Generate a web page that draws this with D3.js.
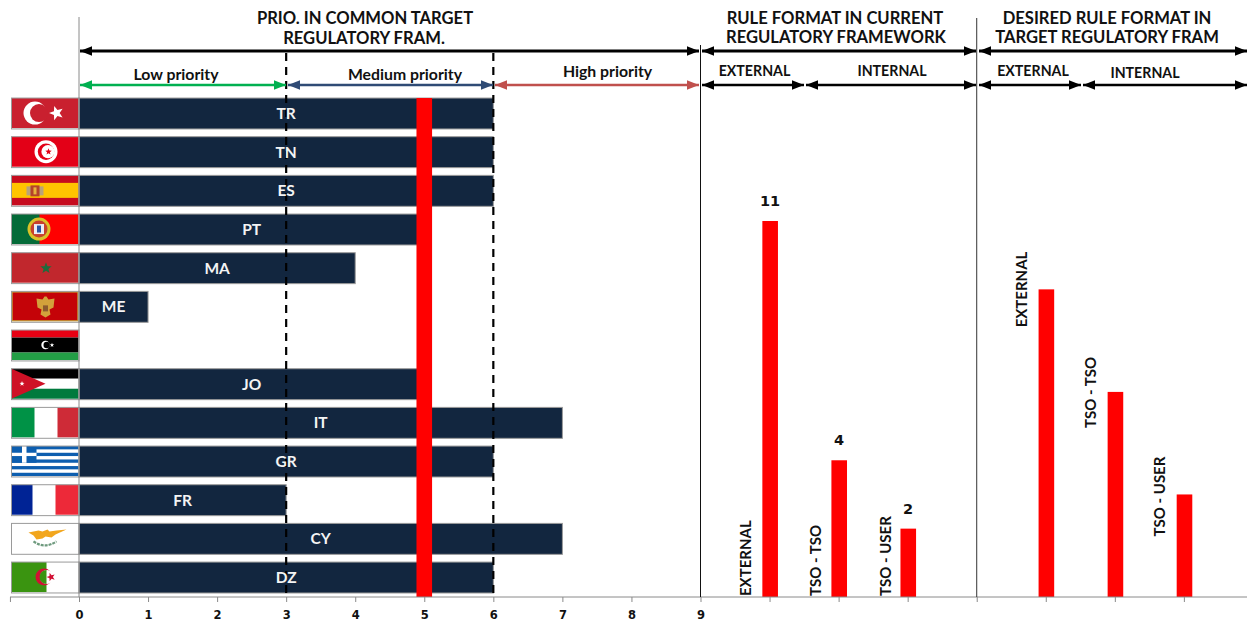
<!DOCTYPE html>
<html>
<head>
<meta charset="utf-8">
<script src="https://cdn.jsdelivr.net/npm/d3@7"></script>
<style>
  html, body { margin: 0; padding: 0; background: #fff; }
  svg { display: block; }
  text { font-family: Lato, "Open Sans", sans-serif; font-weight: 700; fill: #111; }
</style>
</head>
<body>
<div id="chart"></div>
<script>
// Priority given by each country, in display order from top to bottom
const countries  = ["TR", "TN", "ES", "PT", "MA", "ME", "LY", "JO", "IT", "GR", "FR", "CY", "DZ"];
const priorities = [6, 6, 6, 5, 4, 1, 0, 5, 7, 6, 3, 7, 6];
const meanPriority = 5;

// Rule formats, placed on the same horizontal scale after the priority section
const currentFormats = ["EXTERNAL", "TSO - TSO", "TSO - USER"];
const currentCounts  = [11, 4, 2];
const currentSlots   = [10, 11, 12];
const desiredFormats = ["EXTERNAL", "TSO - TSO", "TSO - USER"];
const desiredCounts  = [9, 6, 3];
const desiredSlots   = [14, 15, 16];

const axisTickValues = [-1, 0, 1, 2, 3, 4, 5, 6, 7, 8, 9, 10, 11, 12, 13, 14, 15, 16, 17];
const axisLabelValues = [0, 1, 2, 3, 4, 5, 6, 7, 8, 9];

const width = 1247, height = 624;
const navy = "#12263F", red = "#FF0000", edge = "#9a9a9a";

const svg = d3.select("#chart").append("svg").attr("width", width).attr("height", height);

const x = d3.scaleLinear().domain([0, 9]).range([79, 700.5]);
const yBand = d3.scaleBand().domain(countries).range([94.17, 596.87]).paddingInner(0.2).paddingOuter(0.1);
const yCount = d3.scaleLinear().domain([0, 11]).range([597, 221]);

// Arrowhead markers, one per arrow colour
const defs = svg.append("defs");
function arrowMarker(id, colour) {
  const m = defs.append("marker").attr("id", id).attr("viewBox", "0 0 10 8")
    .attr("refX", 10).attr("refY", 4).attr("markerUnits", "userSpaceOnUse")
    .attr("markerWidth", 12).attr("markerHeight", 10).attr("orient", "auto-start-reverse");
  m.append("path").attr("d", "M0,0L10,4L0,8Z").attr("fill", colour);
}
arrowMarker("a-black", "#000");
arrowMarker("a-green", "#00B050");
arrowMarker("a-navy", "#2F4B75");
arrowMarker("a-red", "#C0504D");

// Horizontal bars
svg.append("g").selectAll("rect.priority").data(countries).join("rect")
  .attr("class", "priority")
  .attr("x", x(0))
  .attr("y", d => yBand(d))
  .attr("width", (d, i) => x(priorities[i]) - x(0))
  .attr("height", yBand.bandwidth())
  .attr("fill", navy)
  .attr("stroke", edge)
  .attr("stroke-width", (d, i) => priorities[i] > 0 ? 1 : 0);

// Column marking the mean priority, running down to the axis
svg.append("rect")
  .attr("x", x(meanPriority) - 7.8).attr("width", 15.6)
  .attr("y", yBand(countries[0])).attr("height", yCount(0) - yBand(countries[0]))
  .attr("fill", red);

// Flag artwork, each drawn in a 67 x 30 box
const star = (cx, cy, r, rot = -90) => d3.range(10).map(i => {
  const a = (rot + i * 36) * Math.PI / 180, q = i % 2 ? r * 0.42 : r;
  return (i ? "L" : "M") + (cx + q * Math.cos(a)).toFixed(2) + "," + (cy + q * Math.sin(a)).toFixed(2);
}).join("") + "Z";

function box(g, x0, y0, w, h, fill) { return g.append("rect").attr("x", x0).attr("y", y0).attr("width", w).attr("height", h).attr("fill", fill); }
function disc(g, cx, cy, r, fill) { return g.append("circle").attr("cx", cx).attr("cy", cy).attr("r", r).attr("fill", fill); }
function poly(g, d, fill) { return g.append("path").attr("d", d).attr("fill", fill); }

const flagPainters = {
  TR(g) {
    box(g, 0, 0, 67, 30, "#C9202F");
    disc(g, 23.5, 15, 11.5, "#fff"); disc(g, 27.5, 15, 9, "#C9202F");
    poly(g, star(45, 15, 7.5, 180), "#fff");
  },
  TN(g) {
    box(g, 0, 0, 67, 30, "#E30017");
    disc(g, 34.5, 15, 11.5, "#fff"); disc(g, 34.5, 15, 8.2, "#E30017"); disc(g, 36.5, 15, 6.6, "#fff");
    poly(g, star(37, 15, 3.4), "#E30017");
  },
  ES(g) {
    box(g, 0, 0, 67, 30, "#C60B1E"); box(g, 0, 7.5, 67, 15, "#FFC400");
    box(g, 15, 11, 17, 9, "#B9A27A"); box(g, 19, 10, 9, 11, "#B5432A"); box(g, 22, 12, 3, 7, "#E8B33C");
  },
  PT(g) {
    box(g, 0, 0, 67, 30, "#FF0000"); box(g, 0, 0, 28, 30, "#046A38");
    disc(g, 27.5, 15, 11.5, "#D9C229"); disc(g, 27.5, 15, 8.5, "#C8402C"); box(g, 22.5, 10, 10, 10, "#EDEDF2");
    box(g, 25.5, 11.5, 4, 7, "#2A55A5");
  },
  MA(g) {
    box(g, 0, 0, 67, 30, "#C1272D");
    poly(g, star(34.5, 15.5, 6), "#1F6B3C");
  },
  ME(g) {
    box(g, 0, 0, 67, 30, "#C2A23A"); box(g, 1.2, 1.2, 64.6, 27.6, "#C40308");
    poly(g, "M25,7 L31,8 L33,5 L35,5 L37,8 L43,7 L42,16 L38,18 L39,23 L34,26 L29,23 L30,18 L26,16Z", "#D3A13B");
    box(g, 31.5, 14, 5, 6, "#8C5A2E");
  },
  LY(g) {
    box(g, 0, 0, 67, 7.5, "#E70013"); box(g, 0, 7.5, 67, 15, "#000"); box(g, 0, 22.5, 67, 7.5, "#239E46");
    disc(g, 34, 15, 4.2, "#fff"); disc(g, 35.2, 15, 3.2, "#000");
    poly(g, star(40.5, 15, 2.3), "#fff");
  },
  JO(g) {
    box(g, 0, 0, 67, 10, "#000"); box(g, 0, 10, 67, 10, "#fff"); box(g, 0, 20, 67, 10, "#007A3D");
    poly(g, "M0,0L34,15L0,30Z", "#CE1126");
    poly(g, star(10.5, 15, 2.6), "#fff");
  },
  IT(g) {
    box(g, 0, 0, 67, 30, "#fff"); box(g, 0, 0, 23, 30, "#009246"); box(g, 46, 0, 21, 30, "#CE2B37");
  },
  GR(g) {
    box(g, 0, 0, 67, 30, "#fff");
    [0, 6.7, 13.4, 20, 26.7].forEach(t => box(g, 0, t, 67, 3.3, "#0D5EAF"));
    box(g, 0, 0, 25, 16.7, "#0D5EAF");
    box(g, 0, 6.7, 25, 3.3, "#fff"); box(g, 10.5, 0, 4.5, 16.7, "#fff");
  },
  FR(g) {
    box(g, 0, 0, 67, 30, "#fff"); box(g, 0, 0, 21, 30, "#002395"); box(g, 44, 0, 23, 30, "#ED2939");
  },
  CY(g) {
    box(g, 0, 0, 67, 30, "#fff");
    poly(g, "M17,9 L27,7 L31,8 L36,6 L38,8 L45,7 L55,6 L44,11 L40,14 L34,13 L31,15 L25,16 L22,12Z", "#F2A61D");
    g.append("path").attr("d", "M22,18 Q33,26 45,18").attr("fill", "none").attr("stroke", "#6E9A7E").attr("stroke-width", 2.2).attr("stroke-dasharray", "3 1");
  },
  DZ(g) {
    box(g, 0, 0, 67, 30, "#fff"); box(g, 0, 0, 35, 30, "#3A9410");
    disc(g, 32.5, 15, 8.5, "#D21034"); disc(g, 35.5, 15, 7, "#fff");
    poly(g, "M35,8A7,7 0 0 0 35,22Z", "#3A9410");
    poly(g, star(39.5, 15, 4.5, 180), "#D21034");
  }
};

const flags = svg.append("g");
countries.forEach(code => {
  const g = flags.append("g").attr("transform", `translate(11.5,${yBand(code)})`);
  flagPainters[code](g);
  g.append("rect").attr("width", 67.5).attr("height", 30.9).attr("fill", "none").attr("stroke", edge).attr("stroke-width", 1);
});

// Rule format columns with their rotated labels and counts
function formatColumns(slots, counts) {
  svg.append("g").selectAll("rect").data(slots).join("rect")
    .attr("x", d => x(d) - 7.2)
    .attr("width", 15.6)
    .attr("y", (d, i) => yCount(counts[i]))
    .attr("height", (d, i) => yCount(0) - yCount(counts[i]))
    .attr("fill", red);
}
formatColumns(currentSlots, currentCounts);
formatColumns(desiredSlots, desiredCounts);

function sideLabel(text, px, py) {
  svg.append("text").attr("transform", `translate(${px},${py}) rotate(-90)`)
    .attr("font-size", 15)
    .attr("dominant-baseline", "middle").text(text);
}
// Current labels sit on the baseline; desired labels sit beside their column tops
currentFormats.forEach((t, i) => sideLabel(t, x(currentSlots[i]) - [22, 21, 21][i], yCount(0) - 1));
desiredFormats.forEach((t, i) => sideLabel(t, x(desiredSlots[i]) - 23, yCount(desiredCounts[i]) + [38, 36, 42][i]));

svg.append("g").selectAll("text").data(currentSlots).join("text")
  .attr("x", d => x(d) + 0.5)
  .attr("y", (d, i) => yCount(currentCounts[i]) - 15)
  .attr("text-anchor", "middle")
  .style("font-family", "'DejaVu Sans', sans-serif")
  .attr("font-size", 14.5)
  .text((d, i) => currentCounts[i]);

// Bottom axis; only the priority section carries numbers
const axis = d3.axisBottom(x).tickValues(axisTickValues).tickSize(5).tickFormat(d => axisLabelValues.includes(d) ? d : "");
const axisG = svg.append("g").attr("transform", "translate(0,597)").call(axis);
axisG.select(".domain").remove();
axisG.selectAll("line").attr("stroke", "#8a8a8a");
axisG.append("line").attr("x1", 10).attr("x2", 1247).attr("stroke", "#8a8a8a");
axisG.selectAll("text")
  .attr("y", 14)
  .style("font-family", "'DejaVu Sans', sans-serif")
  .attr("font-size", 11.5)
  .style("fill", "#111");

// Left spine and the two section dividers
const vline = (px, y1, y2, colour, w) => svg.append("line")
  .attr("x1", px).attr("x2", px).attr("y1", y1).attr("y2", y2).attr("stroke", colour).attr("stroke-width", w);
vline(x(0), 17, 597, "#8a8a8a", 1);
vline(x(9), 45, 597, "#111", 1);
vline(x(13), 18, 597, "#333", 1);

// Dashed boundaries between priority levels
[3, 6].forEach(v => vline(x(v), 53, 596, "#000", 2.2).attr("stroke-dasharray", "8 6"));

// Country codes stay legible above the dashed boundaries
svg.append("g").selectAll("text.code").data(countries).join("text")
  .attr("class", "code")
  .attr("x", (d, i) => x(priorities[i] / 2))
  .attr("y", d => yBand(d) + yBand.bandwidth() / 2 + 5.5)
  .attr("text-anchor", "middle")
  .attr("font-size", 15.5)
  .style("fill", "#f4f4f4")
  .text((d, i) => priorities[i] > 0 ? d : "");

// Span arrows above the plot
function span(x1, x2, py, marker, colour, w) {
  svg.append("line").attr("x1", x1).attr("x2", x2).attr("y1", py).attr("y2", py)
    .attr("stroke", colour).attr("stroke-width", w)
    .attr("marker-start", `url(#${marker})`).attr("marker-end", `url(#${marker})`);
}
span(80, 699, 51, "a-black", "#000", 3);
span(702, 976, 51, "a-black", "#000", 3);
span(979, 1247, 51, "a-black", "#000", 3);
span(80, 286, 85, "a-green", "#00B050", 2.6);
span(288, 493, 85, "a-navy", "#2F4B75", 2.6);
span(495, 699, 85, "a-red", "#C0504D", 2.6);
span(702, 804, 85, "a-black", "#000", 2.6);
span(806, 976, 85, "a-black", "#000", 2.6);
span(979, 1081, 85, "a-black", "#000", 2.6);
span(1083, 1247, 85, "a-black", "#000", 2.6);

// Section headings and level captions
const caption = (t, px, py, size) => svg.append("text").attr("x", px).attr("y", py)
  .attr("text-anchor", "middle").attr("dominant-baseline", "middle").attr("font-size", size).text(t);
caption("PRIO. IN COMMON TARGET", 365, 20, 16.6);
caption("REGULATORY FRAM.", 364, 40, 16.6);
caption("RULE FORMAT IN CURRENT", 835, 19.5, 16.6);
caption("REGULATORY FRAMEWORK", 836, 38.5, 16.6);
caption("DESIRED RULE FORMAT IN", 1107, 19.5, 16.6);
caption("TARGET REGULATORY FRAM", 1107, 38.5, 16.6);
caption("Low priority", 176, 75.5, 15.8);
caption("Medium priority", 405, 75.5, 15.8);
caption("High priority", 607.5, 72.5, 15.8);
caption("EXTERNAL", 754.5, 72.5, 14.2);
caption("INTERNAL", 892, 72.5, 14.2);
caption("EXTERNAL", 1033, 72.5, 14.2);
caption("INTERNAL", 1145, 74.5, 14.2);
</script>
</body>
</html>
